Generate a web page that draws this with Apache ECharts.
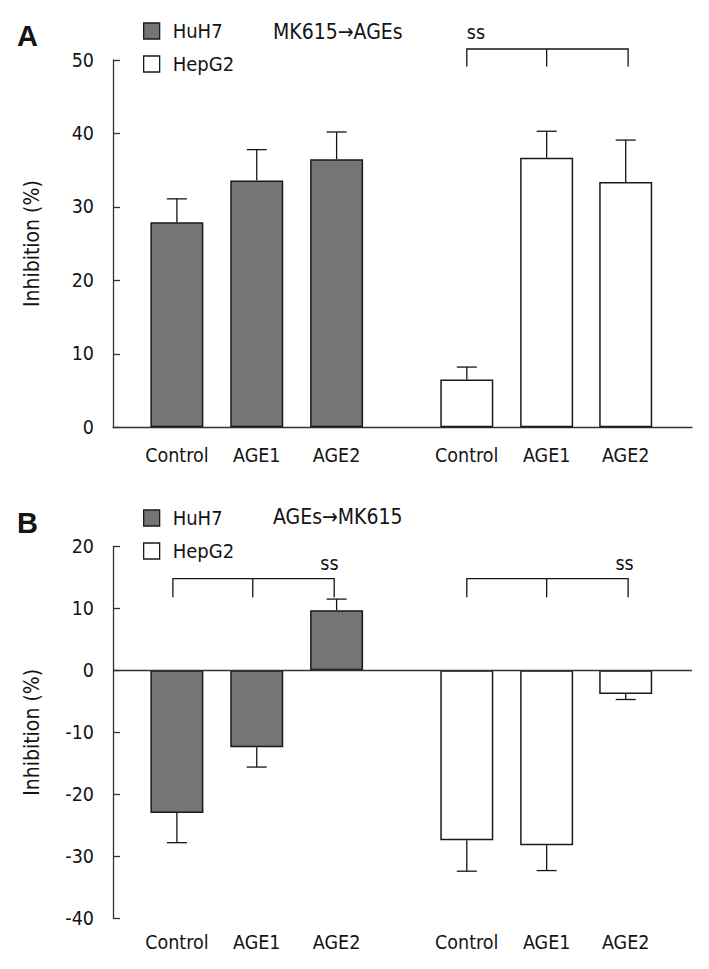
<!DOCTYPE html>
<html><head><meta charset="utf-8">
<script src="https://cdn.jsdelivr.net/npm/echarts@6/dist/echarts.min.js"></script>
<style>html,body{margin:0;padding:0;background:#fff}#c{width:709px;height:969px}</style>
</head><body><div id="c"></div><script>
// ---------------- data ----------------
const categories = ['Control', 'AGE1', 'AGE2'];
const cellLines = ['HuH7', 'HepG2'];
const yTicksA = [0, 10, 20, 30, 40, 50];
const yTicksB = [-40, -30, -20, -10, 0, 10, 20];
// Panel A: MK615 -> AGEs
const aHuH7 = [27.9, 33.6, 36.5];
const aHuH7Sem = [3.2, 4.2, 3.7];
const aHepG2 = [6.5, 36.7, 33.4];
const aHepG2Sem = [1.7, 3.6, 5.7];
// Panel B: AGEs -> MK615
const bHuH7 = [-23.0, -12.4, 9.7];
const bHuH7Sem = [4.8, 3.2, 1.8];
const bHepG2 = [-27.4, -28.2, -3.8];
const bHepG2Sem = [5.0, 4.1, 0.9];
const sigLabel = 'ss';
const titleA = 'MK615\u2192AGEs';
const titleB = 'AGEs\u2192MK615';
const yName = 'Inhibition (%)';

// ---------------- layout / style ----------------
const F = "'DejaVu Sans Condensed', 'DejaVu Sans', sans-serif";
const INK = '#141414';
const AX = '#333333';
const DARK = '#757575';
const GROUP_POS = { HuH7: [0.8, 1.8, 2.8], HepG2: [4.43, 5.43, 6.42] };
const X_MAX = 7.25;
const ALL_POS = GROUP_POS.HuH7.concat(GROUP_POS.HepG2);
const ALL_LABELS = categories.concat(categories);
// bracket annotations: x of the three feet, y of bar and feet, label anchor
const bracketsA = [{ xs: [4.43, 5.43, 6.45], top: 51.5, foot: 49.1, lx: 4.43, ly: 53.7, align: 'left' }];
const bracketsB = [
  { xs: [0.75, 1.75, 2.77], top: 14.8, foot: 11.8, lx: 2.71, ly: 17.3, align: 'center' },
  { xs: [4.43, 5.43, 6.45], top: 14.8, foot: 11.8, lx: 6.405, ly: 17.3, align: 'center' }
];

function xAxis(grid, showLine, margin) {
  return {
    type: 'value', gridIndex: grid, min: 0, max: X_MAX,
    axisLine: { show: showLine, onZero: showLine, lineStyle: { color: AX, width: 1.3 } },
    axisTick: { show: showLine, inside: true, length: 7, customValues: ALL_POS, lineStyle: { color: AX, width: 1.3 } },
    axisLabel: {
      customValues: ALL_POS, margin: margin, fontSize: 19.5, fontFamily: F, color: INK,
      formatter: function (v) {
        const i = ALL_POS.findIndex(p => Math.abs(p - v) < 1e-6);
        return i >= 0 ? ALL_LABELS[i] : '';
      }
    },
    splitLine: { show: false }
  };
}
function yAxis(grid, ticks) {
  return {
    type: 'value', gridIndex: grid, min: ticks[0], max: ticks[ticks.length - 1], interval: 10,
    axisLine: { show: true, lineStyle: { color: AX, width: 1.3 } },
    axisTick: { show: true, inside: true, length: 7, lineStyle: { color: AX, width: 1.3 } },
    axisLabel: { margin: 19, fontSize: 19.5, fontFamily: F, color: INK },
    splitLine: { show: false },
    name: yName, nameLocation: 'middle', nameRotate: 90, nameGap: 71,
    nameTextStyle: { fontSize: 21, fontFamily: F, color: INK }
  };
}
function barSeries(name, grid, pos, vals, fill, extra) {
  return Object.assign({
    type: 'bar', name: name, xAxisIndex: grid, yAxisIndex: grid,
    data: pos.map((x, i) => [x, vals[i]]),
    barWidth: 53, barGap: '-100%',
    itemStyle: { color: fill, borderColor: '#1a1a1a', borderWidth: 1.5 },
    silent: true, animation: false
  }, extra || {});
}
function errSeries(grid, pos, vals, sem) {
  return {
    type: 'custom', xAxisIndex: grid, yAxisIndex: grid, silent: true, animation: false, z: 5, clip: false,
    data: pos.map((x, i) => [x, vals[i], vals[i] + (vals[i] >= 0 ? sem[i] : -sem[i])]),
    encode: { x: 0, y: [1, 2] },
    renderItem: function (params, api) {
      const p0 = api.coord([api.value(0), api.value(1)]);
      const p1 = api.coord([api.value(0), api.value(2)]);
      const st = { stroke: INK, lineWidth: 1.3, fill: null };
      return { type: 'group', children: [
        { type: 'line', shape: { x1: p0[0], y1: p0[1], x2: p1[0], y2: p1[1] }, style: st },
        { type: 'line', shape: { x1: p1[0] - 10, y1: p1[1], x2: p1[0] + 10, y2: p1[1] }, style: st }
      ] };
    }
  };
}
function bracketSeries(grid, list) {
  return {
    type: 'custom', xAxisIndex: grid, yAxisIndex: grid, silent: true, animation: false, z: 6, clip: false,
    data: list.map(b => [b.xs[0], b.xs[1], b.xs[2], b.top, b.foot, b.lx, b.ly]),
    encode: { x: [0, 1, 2, 5], y: [3, 4, 6] },
    renderItem: function (params, api) {
      const b = list[params.dataIndex];
      const p1 = api.coord([api.value(0), api.value(3)]);
      const p2 = api.coord([api.value(1), api.value(3)]);
      const p3 = api.coord([api.value(2), api.value(3)]);
      const yf = api.coord([api.value(0), api.value(4)])[1];
      const lp = api.coord([api.value(5), api.value(6)]);
      const st = { stroke: INK, lineWidth: 1.3, fill: null };
      return { type: 'group', children: [
        { type: 'polyline', shape: { points: [[p1[0], yf], [p1[0], p1[1]], [p3[0], p3[1]], [p3[0], yf]] }, style: st },
        { type: 'line', shape: { x1: p2[0], y1: p2[1], x2: p2[0], y2: yf }, style: st },
        { type: 'text', style: { text: sigLabel, x: lp[0], y: lp[1], align: b.align, verticalAlign: 'middle',
            fontSize: 19.5, fontFamily: F, fill: INK } }
      ] };
    }
  };
}
function legend(top) {
  return {
    orient: 'vertical', left: 143, top: top, padding: 0, itemGap: 13,
    itemWidth: 16, itemHeight: 16, icon: 'rect', selectedMode: false,
    data: cellLines,
    itemStyle: { borderWidth: 1.3, borderColor: '#1a1a1a' },
    textStyle: { fontSize: 20, fontFamily: F, color: INK, padding: [0, 0, 0, 8] }
  };
}
function label(text, x, y, bold, size) {
  return { type: 'text', left: x, top: y, style: { text: text, fontSize: size, fontWeight: bold ? 'bold' : 'normal',
    fontFamily: bold ? "'Liberation Sans', Arial, sans-serif" : F, fill: INK } };
}

const chart = echarts.init(document.getElementById('c'), null, { renderer: 'svg' });
chart.setOption({
  backgroundColor: '#fff',
  animation: false,
  grid: [
    { left: 113, right: 17, top: 60, height: 367.3, containLabel: false, outerBoundsMode: 'none' },
    { left: 113, right: 17, top: 546.4, height: 371.9, containLabel: false, outerBoundsMode: 'none' }
  ],
  xAxis: [xAxis(0, true, 18), xAxis(1, false, 14)],
  yAxis: [yAxis(0, yTicksA), yAxis(1, yTicksB)],
  legend: [legend(21), legend(508)],
  graphic: [
    label('A', 17, 21, true, 29),
    label('B', 17, 508, true, 29),
    label(titleA, 273, 21, false, 21),
    label(titleB, 273, 506, false, 21)
  ],
  series: [
    barSeries('HuH7', 0, GROUP_POS.HuH7, aHuH7, DARK),
    barSeries('HepG2', 0, GROUP_POS.HepG2, aHepG2, '#ffffff'),
    errSeries(0, GROUP_POS.HuH7, aHuH7, aHuH7Sem),
    errSeries(0, GROUP_POS.HepG2, aHepG2, aHepG2Sem),
    bracketSeries(0, bracketsA),
    barSeries('HuH7', 1, GROUP_POS.HuH7, bHuH7, DARK, {
      markLine: { silent: true, symbol: ['none', 'none'], label: { show: false },
        lineStyle: { color: AX, width: 1.3, type: 'solid' }, data: [{ yAxis: 0 }] }
    }),
    barSeries('HepG2', 1, GROUP_POS.HepG2, bHepG2, '#ffffff'),
    errSeries(1, GROUP_POS.HuH7, bHuH7, bHuH7Sem),
    errSeries(1, GROUP_POS.HepG2, bHepG2, bHepG2Sem),
    bracketSeries(1, bracketsB)
  ]
});
</script></body></html>
